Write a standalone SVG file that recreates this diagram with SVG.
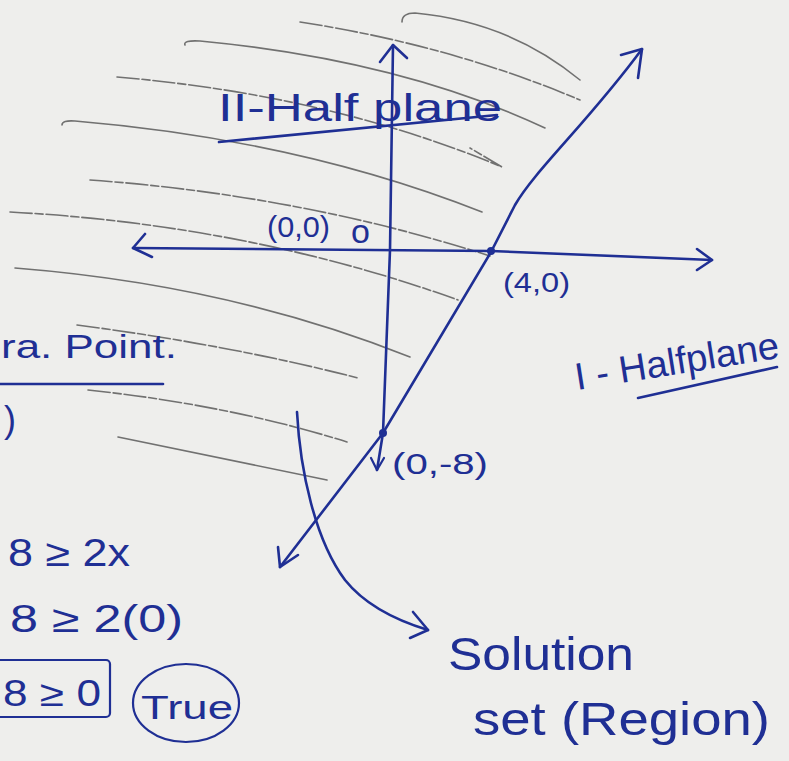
<svg xmlns="http://www.w3.org/2000/svg" width="789" height="761" viewBox="0 0 789 761">
<style>
.ink{fill:none;stroke:#1f2f94;stroke-width:2.6;stroke-linecap:round;stroke-linejoin:round}
.thin{fill:none;stroke:#1f2f94;stroke-width:2.2;stroke-linecap:round;stroke-linejoin:round}
.hatch{fill:none;stroke:#5a5a5a;stroke-width:1.6;stroke-linecap:round;opacity:0.85}
.dash{stroke-dasharray:22 3 8 3}
.t{font-family:"Liberation Sans","DejaVu Sans",sans-serif;fill:#1f2f94}
</style>
<rect width="789" height="761" fill="#eeeeec"/>
<g id="hatching">
<path class="hatch" d="M402,22 Q402,13 415,13 Q510,22 580,80"/>
<path class="hatch dash" d="M300,22 Q450,45 580,100"/>
<path class="hatch" d="M185,45 Q183,40 200,41 Q400,60 545,128"/>
<path class="hatch dash" d="M117,77 Q330,95 502,167 L470,148"/>
<path class="hatch" d="M62,125 Q62,120 75,121 Q300,140 482,212"/>
<path class="hatch dash" d="M90,180 Q300,195 490,256"/>
<path class="hatch dash" d="M10,212 Q250,225 458,300"/>
<path class="hatch" d="M15,268 Q230,285 410,357"/>
<path class="hatch dash" d="M77,325 Q230,345 358,378"/>
<path class="hatch dash" d="M88,390 Q230,405 347,442"/>
<path class="hatch" d="M118,437 L327,480"/>
</g>
<g id="connectors">
<g id="y-axis">
<path class="ink" d="M393,45 L390,250 L383,433 L377,470"/>
<polyline class="ink" points="380,62 393,45 407,58"/>
<polyline class="thin" points="371,458 377,470 384,458"/>
</g>
<g id="x-axis">
<path class="ink" d="M133,248 L491,251 L712,260"/>
<polyline class="ink" points="145,234 133,248 152,257"/>
<polyline class="ink" points="697,249 712,260 697,270"/>
</g>
<g id="boundary-line">
<path class="ink" d="M642,49 C590,120 535,170 515,205 L491,252 L383,433 L280,567"/>
<polyline class="ink" points="621,55 642,49 638,78"/>
<polyline class="ink" points="278,547 280,567 298,555"/>
</g>
<g id="solution-arrow">
<path class="ink" d="M297,412 C300,470 315,540 345,580 C365,605 395,620 428,630"/>
<polyline class="ink" points="413,612 428,630 410,638"/>
</g>
</g>
<g id="point-4-0">
<circle cx="491" cy="251" r="4" fill="#1f2f94"/>
<text class="t" x="503" y="292" font-size="28" textLength="67" lengthAdjust="spacingAndGlyphs">(4,0)</text>
</g>
<g id="point-0-minus8">
<circle cx="383" cy="433" r="4" fill="#1f2f94"/>
<text class="t" x="392" y="474" font-size="30" textLength="96" lengthAdjust="spacingAndGlyphs">(0,-8)</text>
</g>
<g id="origin">
<text class="t" x="267" y="237" font-size="30" textLength="63" lengthAdjust="spacingAndGlyphs">(0,0)</text>
<text class="t" x="351" y="243" font-size="34">o</text>
</g>
<g id="half-plane-2">
<text class="t" x="218" y="121" font-size="38" textLength="284" lengthAdjust="spacingAndGlyphs">II-Half plane</text>
<path class="ink" d="M219,142 L497,115"/>
</g>
<g id="half-plane-1">
<text class="t" x="577" y="390" font-size="38" textLength="206" lengthAdjust="spacingAndGlyphs" transform="rotate(-9 577 390)">I - Halfplane</text>
<path class="ink" d="M638,398 L777,367"/>
</g>
<g id="test-point">
<text class="t" x="1" y="358" font-size="34" textLength="176" lengthAdjust="spacingAndGlyphs">ra. Point.</text>
<path class="ink" d="M0,384 L163,384"/>
<text class="t" x="4" y="432" font-size="36">)</text>
</g>
<g id="working">
<text class="t" x="8" y="566" font-size="38" textLength="122" lengthAdjust="spacingAndGlyphs">8 ≥ 2x</text>
<text class="t" x="10" y="632" font-size="38" textLength="173" lengthAdjust="spacingAndGlyphs">8 ≥ 2(0)</text>
</g>
<g id="result">
<rect class="thin" x="-10" y="660" width="120" height="57" rx="4"/>
<text class="t" x="3" y="706" font-size="36" textLength="98" lengthAdjust="spacingAndGlyphs">8 ≥ 0</text>
<ellipse class="thin" cx="186" cy="703" rx="53" ry="39"/>
<text class="t" x="141" y="719" font-size="34" textLength="92" lengthAdjust="spacingAndGlyphs">True</text>
</g>
<g id="solution-set">
<text class="t" x="448" y="670" font-size="46" textLength="186" lengthAdjust="spacingAndGlyphs">Solution</text>
<text class="t" x="473" y="735" font-size="46" textLength="297" lengthAdjust="spacingAndGlyphs">set (Region)</text>
</g>
</svg>
